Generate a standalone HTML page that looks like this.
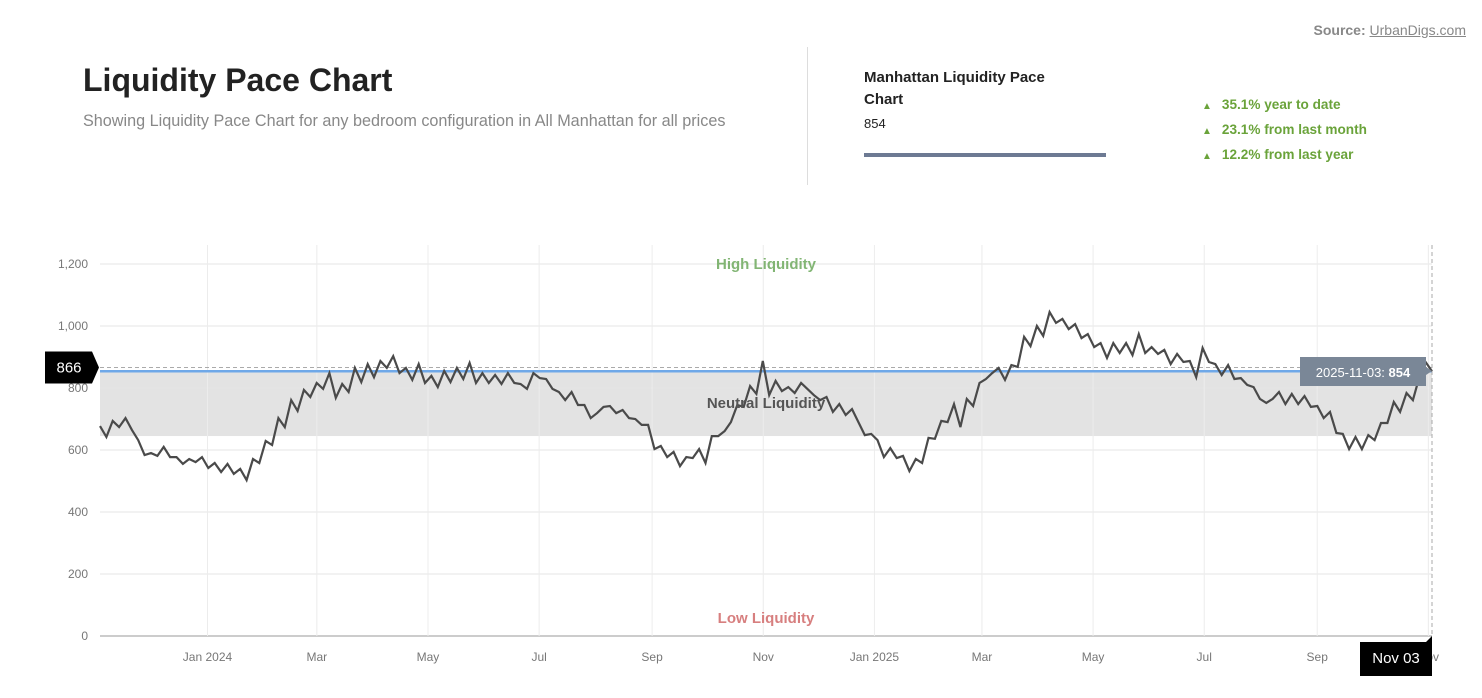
<!DOCTYPE html>
<html><head><meta charset="utf-8"><style>
body{margin:0;width:1482px;height:698px;background:#fff;font-family:"Liberation Sans",sans-serif;position:relative;overflow:hidden}
.abs{position:absolute}
</style></head><body>
<div class="abs" style="right:16px;top:22px;font-size:14px;color:#888;"><b>Source:</b> <a style="color:#888;text-decoration:underline">UrbanDigs.com</a></div>
<div class="abs" style="left:83px;top:62px;font-size:32px;font-weight:bold;color:#222">Liquidity Pace Chart</div>
<div class="abs" style="left:83px;top:112px;font-size:16.2px;color:#888">Showing Liquidity Pace Chart for any bedroom configuration in All Manhattan for all prices</div>
<div class="abs" style="left:807px;top:47px;width:1px;height:138px;background:#ddd"></div>
<div class="abs" style="left:864px;top:67px;width:205px;font-size:15px;font-weight:bold;color:#222;line-height:22px">Manhattan Liquidity Pace Chart</div>
<div class="abs" style="left:864px;top:116px;font-size:13px;color:#222">854</div>
<div class="abs" style="left:864px;top:153px;width:242px;height:4px;background:#6d7a93"></div>
<div class="abs" style="left:1202px;top:93px;font-size:13.6px;font-weight:bold;color:#6aa33a;line-height:23px">
<div><span style="font-size:10px;margin-right:10px">▲</span>35.1% year to date</div>
<div><span style="font-size:10px;margin-right:10px">▲</span>23.1% from last month</div>
<div><span style="font-size:10px;margin-right:10px">▲</span>12.2% from last year</div>
</div>
<svg class="abs" style="left:0;top:0" width="1482" height="698" id="chart"></svg>
<script>
const yTicks=[0,200,400,600,800,1000,1200];
const xTickLabels=["Jan 2024","Mar","May","Jul","Sep","Nov","Jan 2025","Mar","May","Jul","Sep","Nov"];
const xTickDates=["2024-01-01","2024-03-01","2024-05-01","2024-07-01","2024-09-01","2024-11-01","2025-01-01","2025-03-01","2025-05-01","2025-07-01","2025-09-01","2025-11-01"];
const startDate="2023-11-03", endDate="2025-11-03";
const neutralBand=[645,854];
const currentValue=854, crosshairValue=866;
const values=[677,642,694,674,703,665,632,584,590,581,610,577,577,555,571,561,577,542,558,529,555,523,539,503,571,558,629,616,703,674,761,726,794,771,816,797,848,768,813,787,865,819,877,835,887,865,903,848,865,826,877,816,839,803,855,819,865,829,881,816,848,816,842,813,848,816,813,797,848,832,
829,797,787,761,787,745,745,703,719,739,742,719,729,703,700,681,681,603,613,577,594,548,577,574,603,558,645,645,661,690,745,739,806,781,887,777,823,790,803,784,816,797,777,761,771,723,748,713,732,690,648,652,632,577,606,574,581,532,571,558,639,636,694,690,748,674,765,742,816,829,848,
865,826,874,868,965,935,1000,968,1045,1010,1023,990,1006,961,974,932,945,897,945,913,945,906,974,913,932,910,923,877,910,884,887,835,929,884,877,842,874,829,832,810,803,765,752,765,787,748,781,748,774,739,742,703,723,655,652,603,642,603,648,632,687,687,755,723,784,761,835,884,854];
const svg=document.getElementById('chart');const NS='http://www.w3.org/2000/svg';
const X0=100,X1=1432,Y0=636,Y1=264;
const t0=Date.parse(startDate),t1=Date.parse(endDate);
const xs=t=>X0+(t-t0)/(t1-t0)*(X1-X0);
const ys=v=>Y0-v/1200*(Y0-Y1);
function mk(tag,attrs,parent){const e=document.createElementNS(NS,tag);for(const k in attrs)e.setAttribute(k,attrs[k]);(parent||svg).appendChild(e);return e;}
let band=mk('rect',{x:X0,y:ys(neutralBand[1]),width:X1-X0,height:ys(neutralBand[0])-ys(neutralBand[1]),fill:'#e3e3e3'});


yTicks.forEach(v=>{
 const g=mk('line',{x1:X0,x2:X1,y1:ys(v),y2:ys(v),stroke:v===0?'#bbb':'#e6e6e6','stroke-width':v===0?1.5:1});
 
 
 const t=mk('text',{x:88,y:ys(v)+4,'text-anchor':'end','font-size':12,fill:'#777'});
 t.textContent=v.toLocaleString('en-US');
 
 
});
xTickDates.forEach((d,i)=>{
 const x=xs(Date.parse(d));
 const g=mk('line',{x1:x,x2:x,y1:245,y2:Y0,stroke:'#ececec'});
 
 
 const t=mk('text',{x:x,y:661,'text-anchor':'middle','font-size':12,fill:'#777'});
 t.textContent=xTickLabels[i];
 
 
});
function lbl(txt,y,c,name){const t=mk('text',{x:766,y:y,'text-anchor':'middle','font-size':15,'font-weight':'bold',fill:c});t.textContent=txt;}
lbl('High Liquidity',269,'#82b574','high-liquidity-label');
lbl('Low Liquidity',623,'#d77f7f','low-liquidity-label');
let cl=mk('line',{x1:X0,x2:X1,y1:ys(currentValue),y2:ys(currentValue),stroke:'#6fa8e8','stroke-width':2.5});


let ch=mk('line',{x1:X0,x2:X1,y1:ys(crosshairValue),y2:ys(crosshairValue),stroke:'#aaa','stroke-dasharray':'4,3'});


let cv=mk('line',{x1:X1,x2:X1,y1:245,y2:Y0,stroke:'#aaa','stroke-dasharray':'4,3'});


const n=values.length;
const pts=values.map((v,i)=>[xs(t0+(t1-t0)*i/(n-1)),ys(v)]);
let path=mk('polyline',{points:pts.map(p=>p[0].toFixed(1)+','+p[1].toFixed(1)).join(' '),fill:'none',stroke:'#4a4a4a','stroke-width':2.2,'stroke-linejoin':'miter'});


lbl('Neutral Liquidity',408,'#555','neutral-liquidity-label');
let yl=mk('g',{});
mk('path',{d:`M45,${ys(crosshairValue)-16} H92 L99,${ys(crosshairValue)} L92,${ys(crosshairValue)+16} H45 Z`,fill:'#000'},yl);
let ylt=mk('text',{x:69,y:ys(crosshairValue)+5,'text-anchor':'middle','font-size':15,fill:'#fff'},yl);ylt.textContent=String(crosshairValue);
let tt=mk('g',{});
mk('path',{d:'M1300,357 H1426 V367 L1432,371 L1426,375 V386 H1300 Z',fill:'#7a8797'},tt);
let ttt=mk('text',{x:1363,y:377,'text-anchor':'middle','font-size':13,fill:'#fff'},tt);
ttt.innerHTML='2025-11-03: <tspan font-weight="bold">'+currentValue+'</tspan>';
let xl=mk('g',{});
mk('path',{d:'M1360,642 H1426 L1432,636 V676 H1360 Z',fill:'#000'},xl);
let xlt=mk('text',{x:1396,y:663,'text-anchor':'middle','font-size':15,fill:'#fff'},xl);xlt.textContent='Nov 03';
</script>
</body></html>
